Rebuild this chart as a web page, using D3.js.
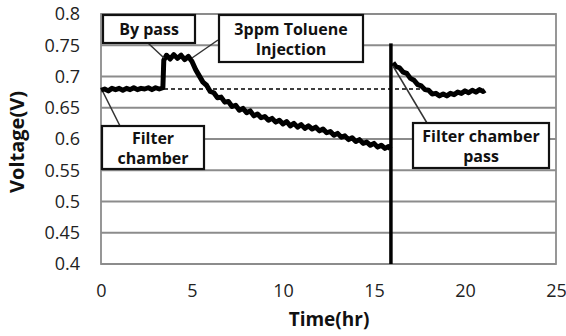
<!DOCTYPE html>
<html><head><meta charset="utf-8">
<script src="https://cdn.jsdelivr.net/npm/d3@7"></script>
<style>body{margin:0;background:#fff}svg{display:block}</style>
</head><body>
<svg id="c" width="566" height="336"></svg>
<script>
// Data
const time1 = [0,0.2,0.4,0.6,0.8,1.0,1.2,1.4,1.6,1.8,2.0,2.2,2.4,2.6,2.8,3.0,3.2,3.4,3.45,3.6,3.8,4.0,4.2,4.4,4.6,4.8,5.0,5.2,5.4,5.6,5.8,6.0,6.2,6.4,6.6,6.8,7.0,7.2,7.4,7.6,7.8,8.0,8.2,8.4,8.6,8.8,9.0,9.2,9.4,9.6,9.8,10.0,10.2,10.4,10.6,10.8,11.0,11.2,11.4,11.6,11.8,12.0,12.2,12.4,12.6,12.8,13.0,13.2,13.4,13.6,13.8,14.0,14.2,14.4,14.6,14.8,15.0,15.2,15.4,15.6,15.8,15.9];
const volt1 = [0.678,0.680,0.677,0.681,0.679,0.681,0.678,0.681,0.679,0.682,0.679,0.681,0.680,0.682,0.679,0.682,0.680,0.682,0.726,0.734,0.728,0.735,0.729,0.734,0.727,0.732,0.724,0.711,0.701,0.691,0.686,0.676,0.674,0.666,0.667,0.659,0.660,0.652,0.654,0.646,0.649,0.642,0.645,0.637,0.640,0.634,0.636,0.630,0.633,0.627,0.630,0.624,0.628,0.621,0.625,0.619,0.623,0.617,0.621,0.616,0.619,0.613,0.616,0.610,0.612,0.606,0.609,0.603,0.605,0.599,0.602,0.596,0.599,0.593,0.595,0.590,0.593,0.587,0.590,0.585,0.588,0.584];
const time2 = [16.05,16.2,16.4,16.6,16.8,17.0,17.2,17.4,17.6,17.8,18.0,18.2,18.4,18.6,18.8,19.0,19.2,19.4,19.6,19.8,20.0,20.2,20.4,20.6,20.8,21.0,21.1];
const volt2 = [0.722,0.716,0.714,0.707,0.705,0.697,0.694,0.687,0.685,0.679,0.678,0.672,0.673,0.669,0.672,0.669,0.673,0.671,0.675,0.673,0.677,0.674,0.678,0.675,0.679,0.676,0.678];
const refLevel = 0.68, refEnd = 17.9;
const eventTime = 15.93, eventTop = 0.753;
const xTicks = [0,5,10,15,20,25];
const yTicks = [0.4,0.45,0.5,0.55,0.6,0.65,0.7,0.75,0.8];
const yTickLabels = ["0.4","0.45","0.5","0.55","0.6","0.65","0.7","0.75","0.8"];
const annotations = [
  {lines:["By pass"], box:[103,15,195,43], from:[148,43], to:[164,58]},
  {lines:["3ppm Toluene","Injection"], box:[219,15,363,62], from:[218,40], to:[192,58]},
  {lines:["Filter","chamber"], box:[102,126,204,169], from:[120,126], to:[103,92]},
  {lines:["Filter chamber","pass"], box:[413,123,549,168], from:[427,123], to:[393,66]}
];

const svg = d3.select("#c");
const L=101, R=556, T=14, B=264;
const x = d3.scaleLinear().domain([0,25]).range([L,R]);
const y = d3.scaleLinear().domain([0.4,0.8]).range([B,T]);
const font = "'Open Sans', 'Noto Sans', sans-serif";

// gridlines
svg.append("g").selectAll("line").data(yTicks).join("line")
  .attr("x1",L).attr("x2",R).attr("y1",d=>y(d)).attr("y2",d=>y(d))
  .attr("stroke","#8c8c8c").attr("stroke-width",1.8);
svg.append("rect").attr("x",L).attr("y",T).attr("width",R-L).attr("height",B-T)
  .attr("fill","none").attr("stroke","#8c8c8c").attr("stroke-width",1.8);

// axes
const yAxis = d3.axisLeft(y).tickValues(yTicks).tickFormat((d,i)=>yTickLabels[i]).tickSize(0).tickPadding(21);
const gy = svg.append("g").attr("transform",`translate(${L},0)`).call(yAxis);
const xAxis = d3.axisBottom(x).tickValues(xTicks).tickFormat(d3.format("d")).tickSize(0).tickPadding(20);
const gx = svg.append("g").attr("transform",`translate(0,${B})`).call(xAxis);
[gx,gy].forEach(g=>{g.select(".domain").remove();
  g.selectAll("text").attr("font-family",font).attr("font-size",18).attr("fill","#222");});

svg.append("text").attr("x",329).attr("y",326).attr("text-anchor","middle")
  .attr("font-family",font).attr("font-weight","bold").attr("font-size",19).attr("fill","#111").text("Time(hr)");
svg.append("text").attr("transform","translate(24,142) rotate(-90)").attr("text-anchor","middle")
  .attr("font-family",font).attr("font-weight","bold").attr("font-size",20).attr("fill","#111").text("Voltage(V)");

// reference dashed line
svg.append("line").attr("x1",x(0)).attr("x2",x(refEnd)).attr("y1",y(refLevel)).attr("y2",y(refLevel))
  .attr("stroke","#000").attr("stroke-width",1.5).attr("stroke-dasharray","4,3");

const line = d3.line().x(d=>x(d[0])).y(d=>y(d[1]));
svg.append("path").datum(d3.zip(time1,volt1)).attr("d",line)
  .attr("fill","none").attr("stroke","#000").attr("stroke-width",5).attr("stroke-linejoin","round");
svg.append("path").datum(d3.zip(time2,volt2)).attr("d",line)
  .attr("fill","none").attr("stroke","#000").attr("stroke-width",5).attr("stroke-linejoin","round");
svg.append("line").attr("x1",x(eventTime)).attr("x2",x(eventTime)).attr("y1",y(0.4)).attr("y2",y(eventTop))
  .attr("stroke","#000").attr("stroke-width",3.5);

// annotations
annotations.forEach(a=>{
  svg.append("line").attr("x1",a.from[0]).attr("y1",a.from[1]).attr("x2",a.to[0]).attr("y2",a.to[1])
    .attr("stroke","#333").attr("stroke-width",1.5);
  const [x0,y0,x1,y1]=a.box;
  svg.append("rect").attr("x",x0).attr("y",y0).attr("width",x1-x0).attr("height",y1-y0)
    .attr("fill","#fff").attr("stroke","#111").attr("stroke-width",2.2);
  const cx=(x0+x1)/2, cy=(y0+y1)/2, lh=20;
  a.lines.forEach((t,i)=>{
    svg.append("text").attr("x",cx).attr("y",cy+(i-(a.lines.length-1)/2)*lh+6)
      .attr("text-anchor","middle").attr("font-family",font).attr("font-weight","bold")
      .attr("font-size",16).attr("fill","#111").text(t);
  });
});
</script>
</body></html>
